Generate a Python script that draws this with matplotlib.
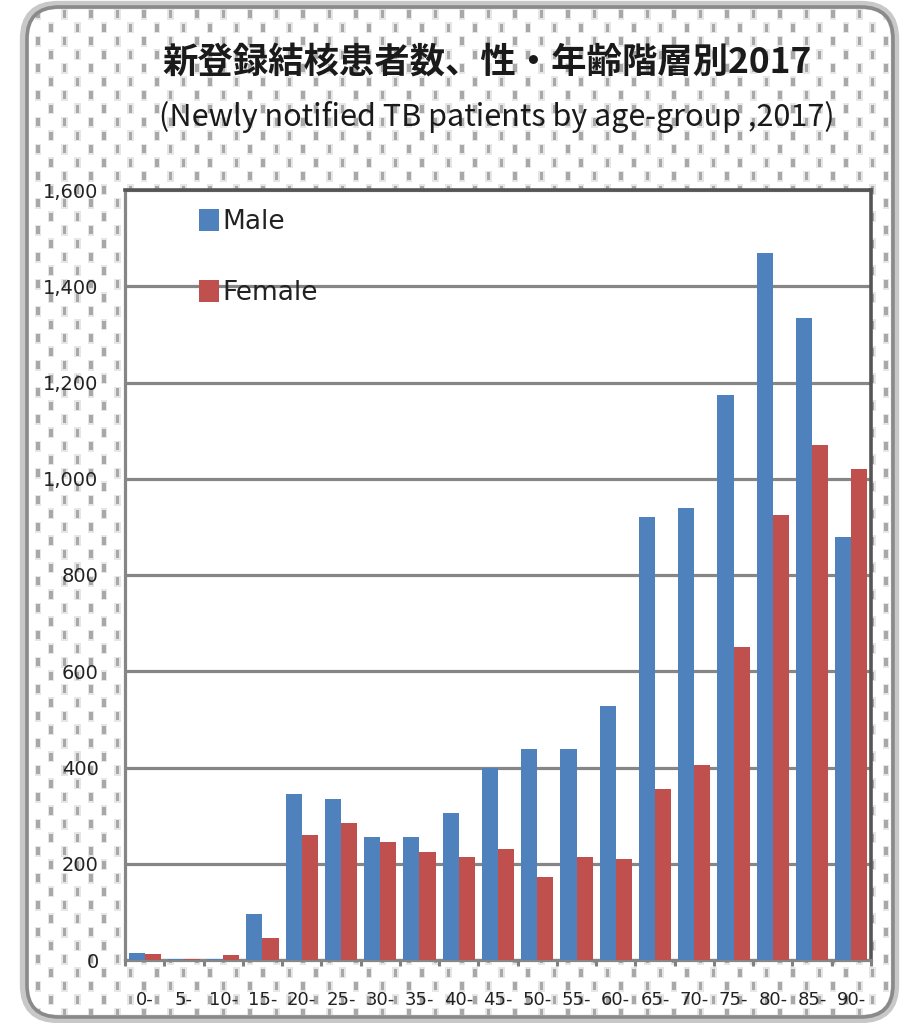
import numpy as np
import matplotlib
matplotlib.use("Agg")
import matplotlib.pyplot as plt
from matplotlib.patches import FancyBboxPatch, Rectangle
from matplotlib.collections import PatchCollection

# ---- data -------------------------------------------------------------
age_groups = ["0-", "5-", "10-", "15-", "20-", "25-", "30-", "35-", "40-", "45-",
              "50-", "55-", "60-", "65-", "70-", "75-", "80-", "85-", "90-"]
male = [15, 2, 2, 95, 345, 335, 255, 255, 305, 400,
        438, 438, 527, 920, 940, 1175, 1470, 1335, 880]
female = [12, 2, 10, 45, 260, 285, 245, 225, 215, 230,
          172, 213, 210, 355, 405, 650, 925, 1070, 1020]
y_ticks = [0, 200, 400, 600, 800, 1000, 1200, 1400, 1600]
y_tick_labels = ["0", "200", "400", "600", "800", "1,000", "1,200", "1,400", "1,600"]
series_names = ["Male", "Female"]
title_jp = "新登録結核患者数、性・年齢階層別2017"
title_en = "(Newly notified TB patients by age-group ,2017)"

FONTS = ["Noto Sans CJK JP", "DejaVu Sans"]
LATIN = ["DejaVu Sans"]
plt.rcParams["font.family"] = FONTS

W, H = 903, 1023
fig = plt.figure(figsize=(W / 100, H / 100), dpi=100)
fig.patch.set_facecolor("white")

# ---- decorative background (pixel coordinates) ------------------------
bg = fig.add_axes([0, 0, 1, 1], zorder=-5)
bg.set_xlim(0, W)
bg.set_ylim(H, 0)
bg.axis("off")

frame_box = dict(boxstyle="round,pad=0,rounding_size=32")
clip_shape = FancyBboxPatch((27, 7), 866, 1010, facecolor="white",
                            edgecolor="none", **frame_box)
bg.add_patch(clip_shape)

# dotted fill inside the rounded frame
dots_core, dots_halo = [], []
row = 0
y = 10.0
while y < H - 8:
    x = 38.0 if row % 2 == 0 else 51.0
    while x < W - 10:
        dots_halo.append(Rectangle((x - 3.0, y - 1.5), 6.5, 11))
        dots_core.append(Rectangle((x - 1.5, y), 3.5, 8))
        x += 26.5
    y += 13.5
    row += 1
halo = PatchCollection(dots_halo, facecolor="#e6e6e6", edgecolor="none")
core = PatchCollection(dots_core, facecolor="#a8a8a8", edgecolor="none")
for coll in (halo, core):
    bg.add_collection(coll)
    coll.set_clip_path(clip_shape)

frame_light = FancyBboxPatch((24, 5), 871, 1014,
                             boxstyle="round,pad=0,rounding_size=34",
                             facecolor="none", edgecolor="#c8c8c8", linewidth=6)
bg.add_patch(frame_light)
frame_dark = FancyBboxPatch((27, 7), 866, 1010, facecolor="none",
                            edgecolor="#8a8a8a", linewidth=2.6, **frame_box)
bg.add_patch(frame_dark)

# ---- titles -------------------------------------------------------------
fig.text(487 / W, 1 - 62 / H, title_jp, ha="center", va="center",
         fontsize=25.5, fontweight="bold", color="#1a1a1a", family=FONTS)
fig.text(497 / W, 1 - 117 / H, title_en, ha="center", va="center",
         fontsize=22, color="#1a1a1a", family=FONTS)

# ---- bar chart ----------------------------------------------------------
ax_left, ax_right, ax_top, ax_bottom = 125, 871, 190, 960
ax = fig.add_axes([ax_left / W, 1 - ax_bottom / H,
                   (ax_right - ax_left) / W, (ax_bottom - ax_top) / H])
ax.set_facecolor("white")

blue = "#4F81BD"
red = "#C0504D"
n = len(age_groups)
idx = np.arange(n)
bw = 0.41
ax.bar(idx - bw / 2, male, width=bw, color=blue, label=series_names[0], zorder=3)
ax.bar(idx + bw / 2, female, width=bw, color=red, label=series_names[1], zorder=3)

ax.set_xlim(-0.5, n - 0.5)
ax.set_ylim(0, 1600)
ax.set_yticks(y_ticks)
ax.set_yticklabels(y_tick_labels, family=LATIN)
ax.set_xticks(idx)
ax.set_xticklabels(age_groups, family=LATIN)
ax.set_xticks(np.arange(n + 1) - 0.5, minor=True)

ax.yaxis.grid(True, color="#868686", linewidth=2.3, zorder=1)
ax.set_axisbelow(True)

ax.tick_params(axis="y", length=0, pad=19, labelsize=14, labelcolor="#222222")
ax.tick_params(axis="x", which="major", length=0, pad=22, labelsize=13,
               labelcolor="#222222")
ax.tick_params(axis="x", which="minor", length=4, width=2.2, color="#808080",
               direction="out")

for side in ("left", "bottom"):
    ax.spines[side].set_color("#868686")
    ax.spines[side].set_linewidth(2.3)
for side in ("top", "right"):
    ax.spines[side].set_color("#555555")
    ax.spines[side].set_linewidth(2.6)

leg = ax.legend(loc="upper left", bbox_to_anchor=(199 / W, 1 - 209 / H),
                bbox_transform=fig.transFigure, frameon=False,
                prop={"family": LATIN, "size": 19},
                handlelength=0.75, handleheight=0.9,
                handletextpad=0.15, labelspacing=1.72, borderpad=0,
                borderaxespad=0)
for t in leg.get_texts():
    t.set_color("#222222")

fig.savefig("out.png", dpi=100, facecolor="white")
